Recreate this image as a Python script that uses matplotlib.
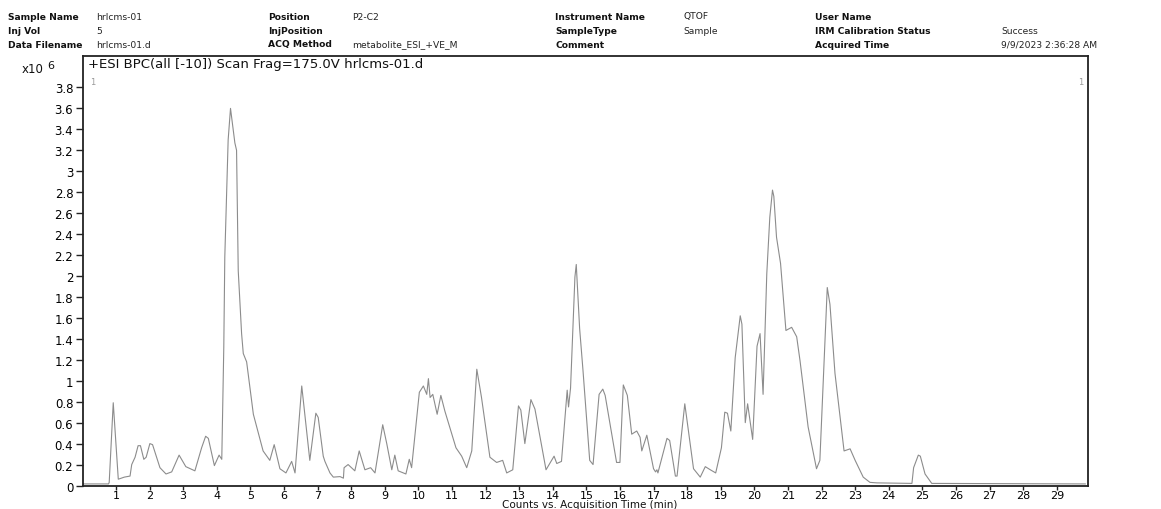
import numpy as np
import matplotlib.pyplot as plt

# retention time (min) and base peak counts (x10^6)
rt_min = [0.02, 0.78, 0.80, 0.92, 1.07, 1.25, 1.42, 1.47, 1.57, 1.66, 1.73, 1.83, 1.90,
          2.01, 2.09, 2.31, 2.49, 2.66, 2.88, 3.08, 3.35, 3.55, 3.67, 3.75, 3.93, 4.07,
          4.15, 4.21, 4.24, 4.34, 4.41, 4.54, 4.59, 4.64, 4.74, 4.79, 4.89, 5.09, 5.38,
          5.58, 5.71, 5.88, 6.06, 6.23, 6.33, 6.53, 6.77, 6.95, 7.02, 7.17, 7.22, 7.37,
          7.47, 7.67, 7.77, 7.79, 7.91, 8.11, 8.24, 8.41, 8.58, 8.71, 8.94, 9.06, 9.21,
          9.30, 9.40, 9.63, 9.73, 9.80, 10.03, 10.15, 10.25, 10.30, 10.35, 10.43, 10.56,
          10.67, 10.79, 11.12, 11.29, 11.44, 11.59, 11.74, 11.88, 12.13, 12.33, 12.51,
          12.63, 12.81, 12.98, 13.05, 13.17, 13.35, 13.47, 13.80, 14.04, 14.12, 14.26,
          14.43, 14.47, 14.53, 14.66, 14.70, 14.80, 14.90, 15.10, 15.20, 15.38, 15.49,
          15.56, 15.90, 16.00, 16.10, 16.22, 16.35, 16.50, 16.60, 16.65, 16.80, 17.00,
          17.06, 17.10, 17.13, 17.40, 17.48, 17.65, 17.70, 17.93, 18.19, 18.39, 18.54,
          18.69, 18.85, 19.02, 19.12, 19.20, 19.30, 19.43, 19.58, 19.63, 19.73, 19.80,
          19.95, 20.08, 20.17, 20.26, 20.37, 20.46, 20.54, 20.58, 20.66, 20.74, 20.78,
          20.94, 21.11, 21.26, 21.36, 21.60, 21.85, 21.95, 22.07, 22.17, 22.25, 22.40,
          22.67, 22.85, 23.00, 23.24, 23.44, 23.65, 24.69, 24.74, 24.88, 24.94, 25.08,
          25.28, 29.85]
counts = [0.015, 0.015, 0.03, 0.79, 0.06, 0.08, 0.09, 0.20, 0.27, 0.38, 0.38, 0.25, 0.27,
          0.40, 0.39, 0.17, 0.11, 0.13, 0.29, 0.18, 0.14, 0.36, 0.47, 0.45, 0.19, 0.29,
          0.25, 1.32, 2.18, 3.30, 3.60, 3.27, 3.20, 2.05, 1.45, 1.26, 1.18, 0.68, 0.33,
          0.24, 0.39, 0.16, 0.12, 0.23, 0.12, 0.95, 0.24, 0.69, 0.65, 0.28, 0.23, 0.12,
          0.08, 0.085, 0.07, 0.17, 0.20, 0.14, 0.33, 0.15, 0.17, 0.12, 0.58, 0.40, 0.15,
          0.29, 0.14, 0.11, 0.25, 0.17, 0.89, 0.95, 0.87, 1.02, 0.84, 0.87, 0.68,
          0.86, 0.71, 0.36, 0.28, 0.17, 0.33, 1.11, 0.84, 0.27, 0.22, 0.24,
          0.12, 0.15, 0.76, 0.72, 0.40, 0.82, 0.73, 0.15, 0.28, 0.21, 0.23,
          0.91, 0.75, 0.93, 1.99, 2.11, 1.50, 1.10, 0.24, 0.20, 0.87, 0.92,
          0.86, 0.22, 0.22, 0.96, 0.86, 0.49, 0.52, 0.46, 0.33, 0.48, 0.16,
          0.13, 0.15, 0.12, 0.45, 0.43, 0.09, 0.09, 0.78, 0.16, 0.08, 0.18,
          0.15, 0.12, 0.36, 0.70, 0.69, 0.52, 1.22, 1.62, 1.54, 0.60, 0.78,
          0.44, 1.33, 1.45, 0.87, 2.02, 2.56, 2.82, 2.76, 2.37, 2.20, 2.12,
          1.48, 1.51, 1.42, 1.19, 0.56, 0.16, 0.24, 1.13, 1.89, 1.73, 1.07,
          0.33, 0.35, 0.24, 0.08, 0.03, 0.025, 0.02, 0.17, 0.29, 0.28, 0.11,
          0.02, 0.015]

y_ticks = [0, 0.2, 0.4, 0.6, 0.8, 1, 1.2, 1.4, 1.6, 1.8, 2, 2.2, 2.4, 2.6, 2.8, 3, 3.2,
           3.4, 3.6, 3.8]
x_ticks = list(range(1, 30))

# sample info block above the plot: (label, value) per column
info_cols = [
    [("Sample Name", "hrlcms-01"), ("Inj Vol", "5"), ("Data Filename", "hrlcms-01.d")],
    [("Position", "P2-C2"), ("InjPosition", ""), ("ACQ Method", "metabolite_ESI_+VE_M")],
    [("Instrument Name", "QTOF"), ("SampleType", "Sample"), ("Comment", "")],
    [("User Name", ""), ("IRM Calibration Status", "Success"),
     ("Acquired Time", "9/9/2023 2:36:28 AM")],
]
label_x = [8, 268, 555, 815]
value_x = [96, 352, 683, 1001]
row_y = [17, 31, 45]

W, H = 1161, 510
fig = plt.figure(figsize=(W / 100, H / 100), dpi=100)


def fx(px):
    return px / W


def fy(py):
    return 1 - py / H


for c, col in enumerate(info_cols):
    for r, (lab, val) in enumerate(col):
        fig.text(fx(label_x[c]), fy(row_y[r]), lab, fontsize=6.6, fontweight='bold',
                 family='DejaVu Sans', va='center', ha='left', color='#111')
        if val:
            fig.text(fx(value_x[c]), fy(row_y[r]), val, fontsize=6.6,
                     family='DejaVu Sans', va='center', ha='left', color='#222')

ax = fig.add_axes([fx(83), fy(486.5), fx(1088) - fx(83), fy(57) - fy(486.5)])
ax.plot(rt_min, counts, color='#8c8c8c', lw=0.8)

ax.set_xlim(0.02, 29.93)
ax.set_ylim(0, 4.1)
ax.set_yticks(y_ticks)
ax.set_yticklabels(['%g' % v for v in y_ticks])
ax.set_xticks(x_ticks)
ax.tick_params(axis='both', direction='out', width=1, color='#222', labelsize=8.5)
ax.tick_params(axis='y', length=5, pad=2)
ax.tick_params(axis='x', length=3, pad=0.2, labelsize=8)
for s in ax.spines.values():
    s.set_linewidth(1.3)
    s.set_color('#222')

ax.text(0.005, 0.998, '+ESI BPC(all [-10]) Scan Frag=175.0V hrlcms-01.d',
        transform=ax.transAxes, fontsize=9.5, va='top', ha='left', color='#111')
ax.text(0.007, 0.95, '1', transform=ax.transAxes, fontsize=6, va='top', ha='left',
        color='#999')
ax.text(0.995, 0.95, '1', transform=ax.transAxes, fontsize=6, va='top', ha='right',
        color='#999')

fig.text(fx(22), fy(70), 'x10', fontsize=8.5, va='center', ha='left', color='#111')
fig.text(fx(47), fy(66), '6', fontsize=8, va='center', ha='left', color='#111')
fig.text(fx(590), fy(510), 'Counts vs. Acquisition Time (min)', fontsize=7.5,
         va='bottom', ha='center', color='#111')

fig.savefig('out.png', dpi=100)
